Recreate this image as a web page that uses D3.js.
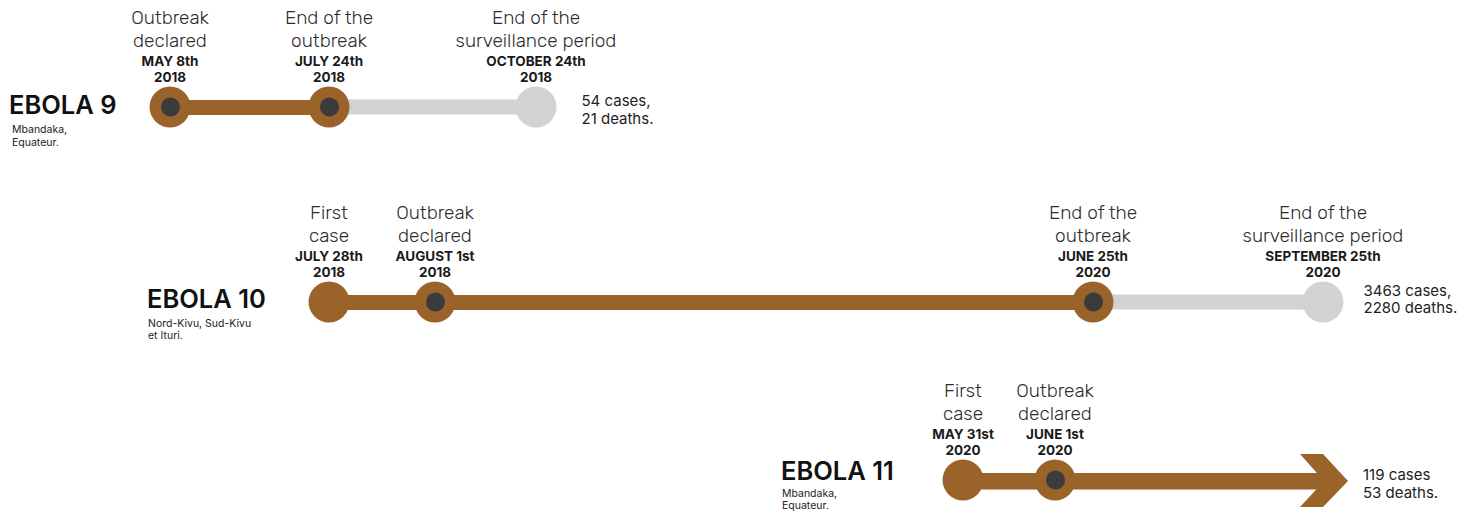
<!DOCTYPE html>
<html>
<head>
<meta charset="utf-8">
<script src="https://cdn.jsdelivr.net/npm/d3@7"></script>
<style>
  html, body { margin: 0; padding: 0; background: #fff; }
  svg { display: block; }
</style>
</head>
<body>
<div id="chart"></div>
<script>
// ---------------- DATA ----------------
const outbreaks = ["EBOLA 9", "EBOLA 10", "EBOLA 11"];
const regions = [
  ["Mbandaka,", "Equateur."],
  ["Nord-Kivu, Sud-Kivu", "et Ituri."],
  ["Mbandaka,", "Equateur."]
];
const eventDates = [
  ["2018-05-08", "2018-07-24", "2018-10-24"],
  ["2018-07-28", "2018-08-01", "2020-06-25", "2020-09-25"],
  ["2020-05-31", "2020-06-01"]
];
const eventTypes = [
  ["declared", "end", "surveillance"],
  ["first", "declared", "end", "surveillance"],
  ["first", "declared"]
];
const eventLabels = [
  [["Outbreak", "declared"], ["End of the", "outbreak"], ["End of the", "surveillance period"]],
  [["First", "case"], ["Outbreak", "declared"], ["End of the", "outbreak"], ["End of the", "surveillance period"]],
  [["First", "case"], ["Outbreak", "declared"]]
];
const dateLabels = [
  [["MAY 8th", "2018"], ["JULY 24th", "2018"], ["OCTOBER 24th", "2018"]],
  [["JULY 28th", "2018"], ["AUGUST 1st", "2018"], ["JUNE 25th", "2020"], ["SEPTEMBER 25th", "2020"]],
  [["MAY 31st", "2020"], ["JUNE 1st", "2020"]]
];
const caseLabels = [
  ["54 cases,", "21 deaths."],
  ["3463 cases,", "2280 deaths."],
  ["119 cases", "53 deaths."]
];
const ongoing = [false, false, true];

// ---------------- LAYOUT ----------------
const W = 1473, H = 513;
const parse = d3.timeParse("%Y-%m-%d");
const BROWN = "#9a6329", GREY = "#d1d2d4", DARK = "#3b3b3d";

// schematic (piecewise) time scale: breakpoints are the events themselves
const allDates = Array.from(new Set(eventDates.flat())).sort();
const anchorX = [170, 329, 329, 435, 536, 963, 1055, 1093, 1323];
const x = d3.scaleTime()
  .domain(allDates.map(parse))
  .range(anchorX)
  .clamp(true);

const y = d3.scaleOrdinal().domain(outbreaks).range([107, 302, 480]);

const rowLayout = [
  { labelX: 9,   labelDy: 7, subX: 12,  subDy: [26, 39], caseDy: [-1, 17] },
  { labelX: 147, labelDy: 6, subX: 148, subDy: [25, 37], caseDy: [-6, 11] },
  { labelX: 781, labelDy: 0, subX: 782, subDy: [17, 29], caseDy: [0, 18] }
];

const R = 20.5, r = 9.5, BAR = 15;

const svg = d3.select("#chart").append("svg")
  .attr("width", W).attr("height", H)
  .attr("viewBox", `0 0 ${W} ${H}`);

outbreaks.forEach((name, i) => {
  const cy = y(name);
  const g = svg.append("g");
  const dates = eventDates[i].map(parse);
  const types = eventTypes[i];
  const xs = dates.map(d => x(d));
  const endIdx = types.indexOf("end");
  const survIdx = types.indexOf("surveillance");
  const arrowTip = d3.max(x.range()) + 25;

  // grey surveillance segment
  if (endIdx >= 0 && survIdx >= 0) {
    g.append("rect")
      .attr("x", xs[endIdx]).attr("y", cy - BAR / 2)
      .attr("width", xs[survIdx] - xs[endIdx]).attr("height", BAR)
      .attr("fill", GREY);
  }
  // brown outbreak segment
  const brownEnd = ongoing[i] ? arrowTip - 20 : xs[endIdx];
  g.append("rect")
    .attr("x", xs[0]).attr("y", cy - BAR / 2 + 0.5)
    .attr("width", brownEnd - xs[0]).attr("height", BAR + (ongoing[i] ? 1.5 : 0))
    .attr("fill", BROWN);

  if (ongoing[i]) {
    const t = arrowTip, hy = 26;
    g.append("path")
      .attr("d", d3.line()([
        [t - 48, cy - hy], [t - 25, cy - hy], [t, cy + 1], [t - 25, cy + hy + 1],
        [t - 48, cy + hy + 1], [t - 24, cy + 1]
      ]) + "Z")
      .attr("fill", BROWN);
  }

  // markers
  types.forEach((tp, j) => {
    g.append("circle").attr("cx", xs[j]).attr("cy", cy).attr("r", R)
      .attr("fill", tp === "surveillance" ? GREY : BROWN);
    if (tp === "declared" || tp === "end") {
      g.append("circle").attr("cx", xs[j] + 0.5).attr("cy", cy).attr("r", r)
        .attr("fill", DARK);
    }
    // event label
    const lab = g.append("text")
      .attr("text-anchor", "middle")
      .attr("font-family", "Rubik, Inter, 'Open Sans', sans-serif")
      .attr("font-weight", 300)
      .attr("font-size", 19)
      .attr("fill", "#2d2d2d");
    eventLabels[i][j].forEach((line, k) => {
      lab.append("tspan").attr("x", xs[j]).attr("y", cy - 83 + k * 23).text(line);
    });
    // date label
    const dl = g.append("text")
      .attr("text-anchor", "middle")
      .attr("font-family", "Inter, Roboto, sans-serif")
      .attr("font-weight", 700)
      .attr("font-size", 13.5)
      .attr("fill", "#1a1a1a");
    dateLabels[i][j].forEach((line, k) => {
      dl.append("tspan").attr("x", xs[j]).attr("y", cy - 41 + k * 16).text(line);
    });
  });

  // row title
  const L = rowLayout[i];
  g.append("text")
    .attr("x", L.labelX).attr("y", cy + L.labelDy)
    .attr("font-family", "Inter, Roboto, sans-serif")
    .attr("font-weight", 600)
    .attr("font-size", 25.5)
    .attr("fill", "#111")
    .text(name);
  const sub = g.append("text")
    .attr("font-family", "Inter, Roboto, sans-serif")
    .attr("font-size", 10.5)
    .attr("fill", "#222");
  regions[i].forEach((line, k) => {
    sub.append("tspan").attr("x", L.subX).attr("y", cy + L.subDy[k]).text(line);
  });

  // cases
  const lastX = ongoing[i] ? arrowTip : d3.max(xs) + R;
  const ct = g.append("text")
    .attr("font-family", "Inter, Roboto, sans-serif")
    .attr("font-size", 15)
    .attr("fill", "#222");
  caseLabels[i].forEach((line, k) => {
    ct.append("tspan").attr("x", ongoing[i] ? lastX + 15 : lastX + 25 + (i === 1 ? -5 : 0))
      .attr("y", cy + L.caseDy[k]).text(line);
  });
});
</script>
</body>
</html>
